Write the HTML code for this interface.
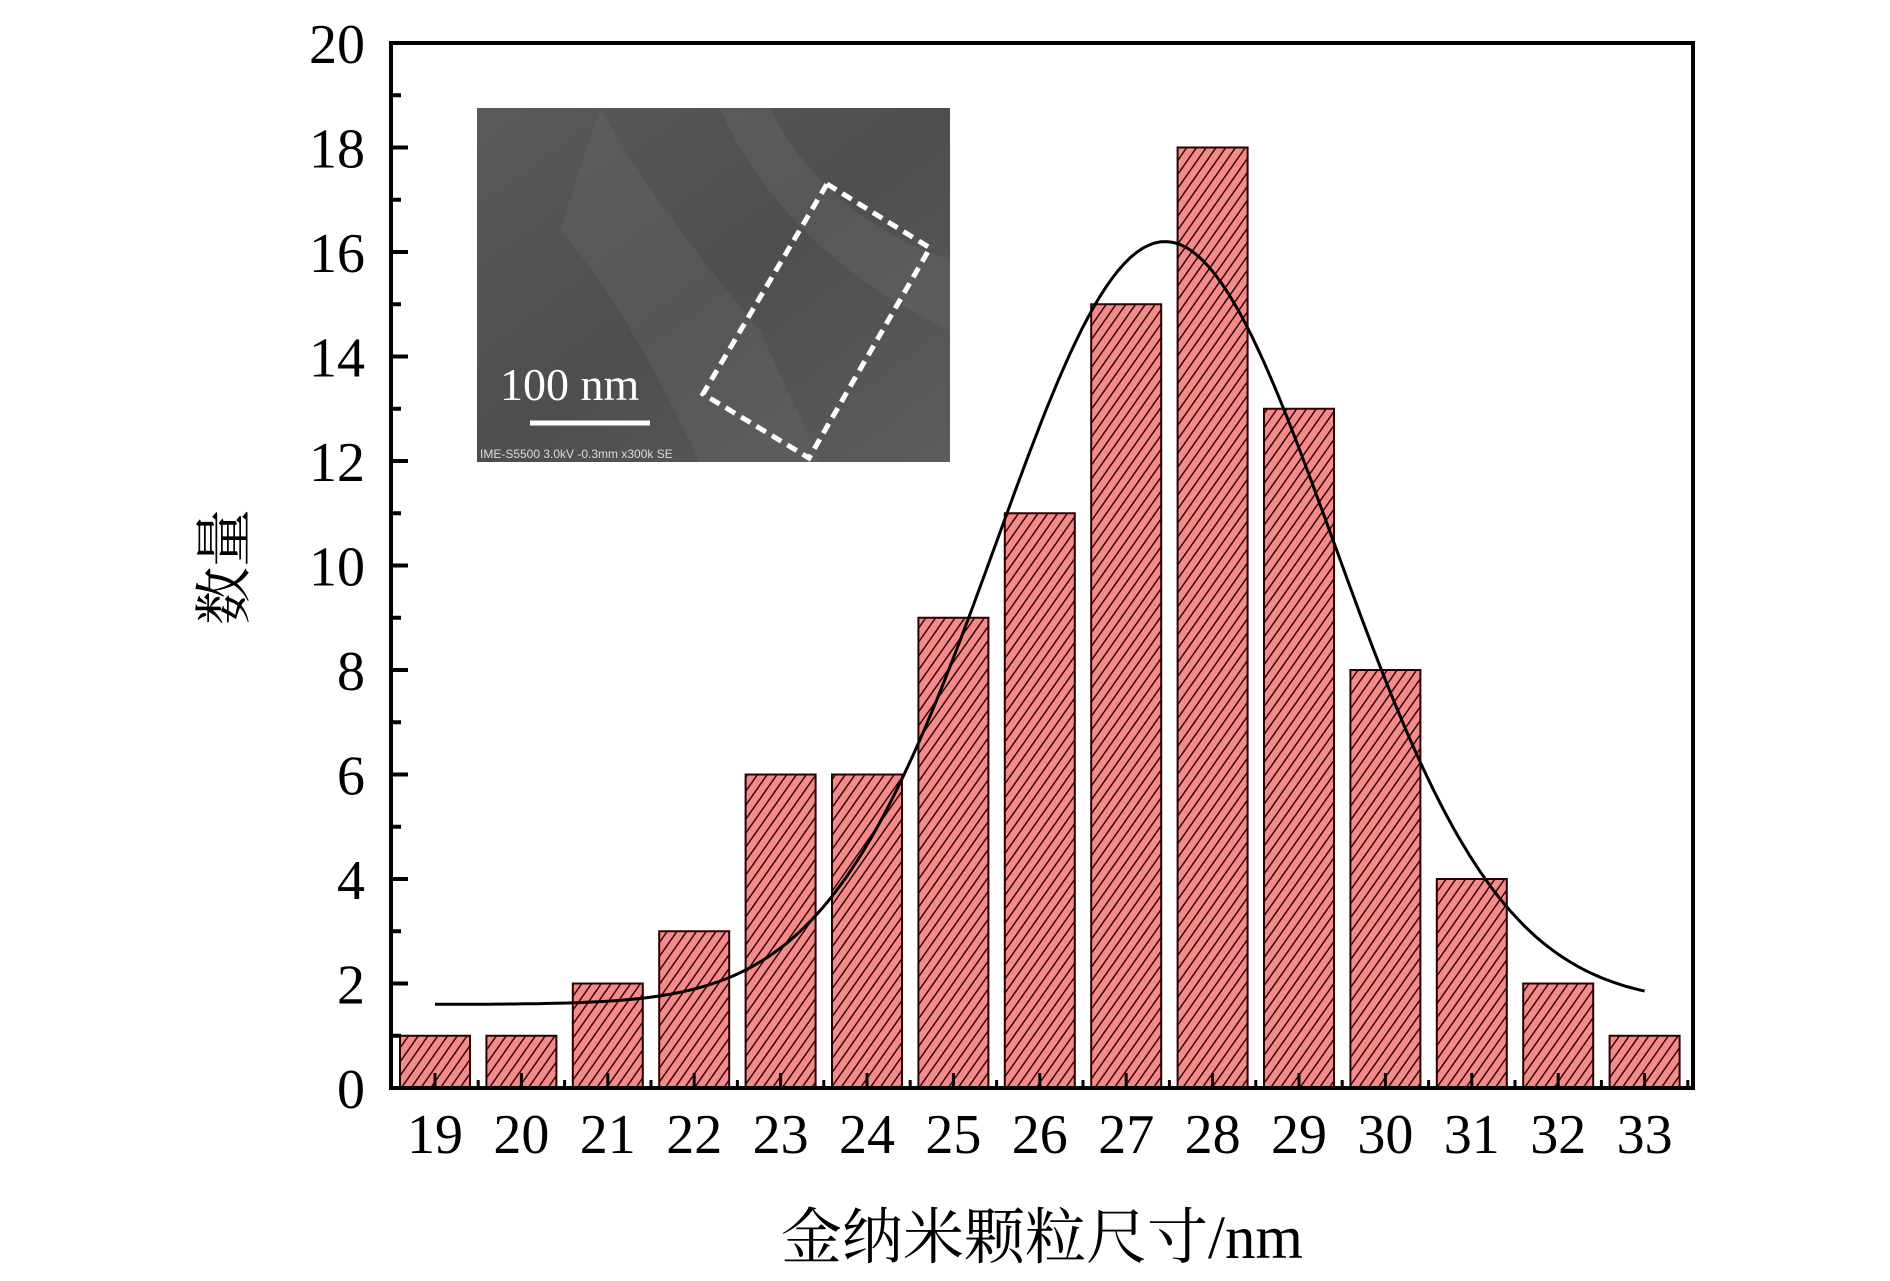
<!DOCTYPE html>
<html><head><meta charset="utf-8">
<style>
html,body{margin:0;padding:0;background:#fff;}
svg{display:block;}
text{font-family:"Liberation Serif","Noto Serif CJK SC",serif;}
</style></head>
<body>
<svg id="chart" width="1890" height="1281" viewBox="0 0 1890 1281" xmlns="http://www.w3.org/2000/svg">
<defs>
<pattern id="hatch" patternUnits="userSpaceOnUse" width="8" height="8" patternTransform="rotate(35)">
<rect width="8" height="8" fill="#f58a8a"/>
<line x1="0" y1="0" x2="0" y2="8" stroke="#300808" stroke-width="3"/>
</pattern>
<linearGradient id="semg" x1="0" y1="0" x2="1" y2="1">
<stop offset="0" stop-color="#5a5a5a"/><stop offset="0.5" stop-color="#4e4e4e"/><stop offset="1" stop-color="#5c5c5c"/>
</linearGradient>
</defs>
<g id="bars"></g>
<path id="fit" fill="none" stroke="#000" stroke-width="3"/>
<g id="inset">
<rect x="477" y="108" width="473" height="354" fill="url(#semg)"/>
<path d="M600 108 C640 180 700 260 760 330 L820 462 L700 462 C660 380 620 300 560 230 Z" fill="#666" opacity="0.35"/>
<path d="M720 108 C760 200 840 280 950 330 L950 260 C860 230 800 170 770 108 Z" fill="#6a6a6a" opacity="0.35"/>
<polygon points="827,184 930,248 809,458 703,394" fill="none" stroke="#fff" stroke-width="5" stroke-dasharray="11,7"/>
<text x="500" y="400" fill="#fff" font-size="46">100 nm</text>
<line x1="530" y1="423" x2="650" y2="423" stroke="#fff" stroke-width="5"/>
<text x="480" y="458" fill="#ddd" font-size="12" style="font-family:'Liberation Sans',sans-serif">IME-S5500 3.0kV -0.3mm x300k SE</text>
</g>
<g id="axes"></g>
<text transform="translate(244,567) rotate(-90)" text-anchor="middle" font-size="58">数量</text>
<text x="1042" y="1258" text-anchor="middle" font-size="61">金纳米颗粒尺寸/nm</text>
</svg>
<script>
const categories = [19,20,21,22,23,24,25,26,27,28,29,30,31,32,33];
const counts = [1,1,2,3,6,6,9,11,15,18,13,8,4,2,1];
const yTicks = [0,2,4,6,8,10,12,14,16,18,20];
// Gaussian fit parameters: baseline, amplitude, centre, sigma, range start, range end
const fitParams = [1.6, 14.6, 27.45, 1.95, 19, 33];

const NS = 'http://www.w3.org/2000/svg';
const L = 391, R = 1693, T = 43, B = 1088;
const x0 = 435, pitch = 86.4, barW = 70;
function xScale(v){ return x0 + (v - categories[0]) * pitch; }
function yScale(v){ return B - (v / 20) * (B - T); }
function mk(tag, attrs, parent){ const e = document.createElementNS(NS, tag); for (const k in attrs) e.setAttribute(k, attrs[k]); parent.appendChild(e); return e; }

const bars = document.getElementById('bars');
categories.forEach((c, i) => {
  const y = yScale(counts[i]);
  const r = mk('rect', {x: xScale(c) - barW/2, y: y, width: barW, height: B - y, fill: 'url(#hatch)', stroke: '#2a0000', 'stroke-width': 2}, bars);
  
  
});

let d = '';
for (let k = 0; k <= 200; k++) {
  const xv = fitParams[4] + (fitParams[5] - fitParams[4]) * k / 200;
  const yv = fitParams[0] + fitParams[1] * Math.exp(-Math.pow(xv - fitParams[2], 2) / (2 * fitParams[3] * fitParams[3]));
  d += (k ? 'L' : 'M') + xScale(xv).toFixed(1) + ' ' + yScale(yv).toFixed(1);
}
document.getElementById('fit').setAttribute('d', d);

const ax = document.getElementById('axes');
const frame = mk('rect', {x: L, y: T, width: R - L, height: B - T, fill: 'none', stroke: '#000', 'stroke-width': 4}, ax);


yTicks.forEach(v => {
  mk('line', {x1: L, x2: L + 17, y1: yScale(v), y2: yScale(v), stroke: '#000', 'stroke-width': 4}, ax);
  if (v < 20) mk('line', {x1: L, x2: L + 10, y1: yScale(v + 1), y2: yScale(v + 1), stroke: '#000', 'stroke-width': 4}, ax);
  const t = mk('text', {x: 365, y: yScale(v) + 20, 'text-anchor': 'end', 'font-size': 56}, ax);
  t.textContent = v;
  
  
});
categories.forEach(c => {
  mk('line', {x1: xScale(c), x2: xScale(c), y1: B, y2: B - 15, stroke: '#000', 'stroke-width': 3}, ax);
  mk('line', {x1: xScale(c) + pitch/2, x2: xScale(c) + pitch/2, y1: B, y2: B - 8, stroke: '#000', 'stroke-width': 3}, ax);
  const t = mk('text', {x: xScale(c), y: 1153, 'text-anchor': 'middle', 'font-size': 56}, ax);
  t.textContent = c;
  
  
});
</script>
</body></html>
